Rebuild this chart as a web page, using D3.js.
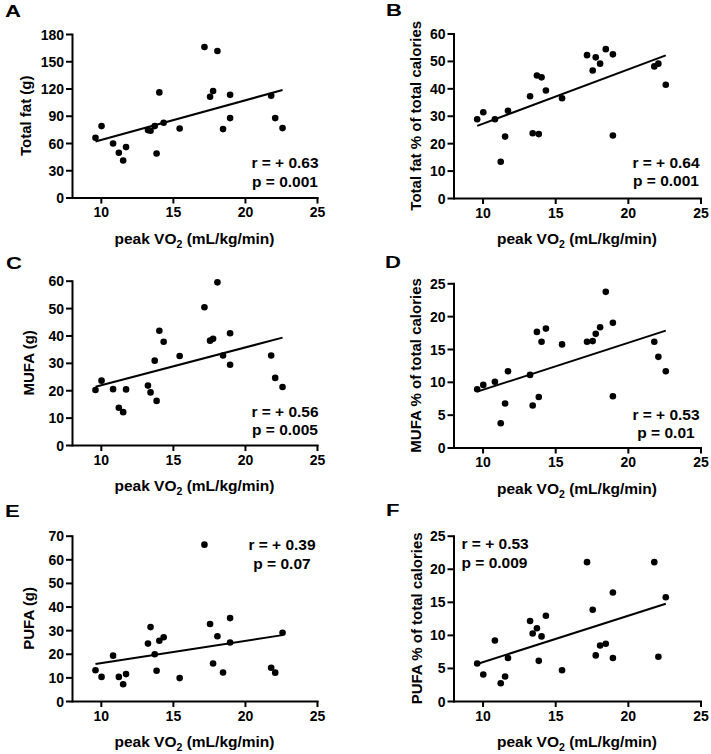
<!DOCTYPE html>
<html><head><meta charset="utf-8">
<script src="https://cdn.jsdelivr.net/npm/d3@7"></script>
<style>
body{margin:0;background:#fff}
svg{display:block}
text{font-family:"Liberation Sans",Arial,Helvetica,sans-serif;font-weight:bold;fill:#000}
</style>
</head><body>
<svg id="chart" width="711" height="754"></svg>
<script>
// ---- data ----
const peakVO2 = [9.63, 10.05, 10.85, 11.25, 11.55, 11.75, 13.27, 13.45, 13.74, 13.87, 14.06, 14.36, 15.47, 17.19, 17.58, 17.79, 18.09, 18.48, 18.97, 18.97, 21.82, 22.1, 22.61];
const totalFat = [65.8, 78.6, 59.5, 49.2, 40.8, 55.5, 74.2, 73.5, 78.6, 48.5, 115.7, 82.3, 76.0, 165.7, 111, 117.2, 161.3, 75.3, 113, 87.4, 112, 87.4, 76.4];
const totalFatPct = [28.7, 31.3, 28.7, 13.2, 22.4, 31.8, 37.1, 23.6, 44.7, 23.3, 44.0, 39.2, 36.4, 52.1, 46.5, 51.3, 49.0, 54.3, 52.4, 22.8, 48.0, 49.0, 41.3];
const mufa = [20.1, 23.5, 20.4, 13.6, 12.0, 20.3, 21.7, 19.2, 30.8, 16.1, 41.7, 37.7, 32.5, 50.3, 38.1, 38.8, 59.4, 32.7, 40.8, 29.3, 32.7, 24.5, 21.2];
const mufaPct = [8.87, 9.53, 10.0, 3.7, 6.7, 11.6, 11.05, 6.4, 17.6, 7.7, 16.1, 18.1, 15.7, 16.1, 16.2, 17.3, 18.3, 23.7, 19.0, 7.8, 16.1, 13.8, 11.6];
const pufa = [13.0, 10.2, 19.2, 10.2, 7.1, 11.4, 24.3, 31.3, 19.8, 12.8, 25.5, 27.0, 9.7, 66.2, 32.6, 15.9, 27.4, 12.1, 35.1, 24.8, 14.1, 12.0, 28.9];
const pufaPct = [5.67, 4.0, 9.16, 2.68, 3.7, 6.5, 12.1, 10.2, 11.0, 6.07, 9.77, 12.9, 4.66, 21.0, 13.8, 6.9, 8.4, 8.65, 16.4, 6.5, 21.0, 6.7, 15.7];

const panelLetters = ["A", "B", "C", "D", "E", "F"];
const yTitles = ["Total fat (g)", "Total fat % of total calories", "MUFA (g)", "MUFA % of total calories", "PUFA (g)", "PUFA % of total calories"];
const yMaxes = [180, 60, 60, 25, 70, 25];
const ySteps = [30, 10, 10, 5, 10, 5];
const rLabels = ["r = + 0.63", "r = + 0.64", "r = + 0.56", "r = + 0.53", "r = + 0.39", "r = + 0.53"];
const pLabels = ["p = 0.001", "p = 0.001", "p = 0.005", "p = 0.01", "p = 0.07", "p = 0.009"];
const fitStart = [61.7, 26.3, 21.3, 8.5, 15.7, 5.6];
const fitEnd = [118.3, 52.0, 39.2, 17.8, 27.9, 14.7];
const xDomain = [8, 25];
const xTicks = [10, 15, 20, 25];
const series = [totalFat, totalFatPct, mufa, mufaPct, pufa, pufaPct];

// ---- layout ----
const layout = [
  {x0: 72, x1: 317, y0: 34, y1: 197.5, lx: 5, ly: 16.5, tx: 31, ann: {x: 285, y: [168.3, 186.7], anchor: "middle"}},
  {x0: 453.5, x1: 700.5, y0: 33.5, y1: 198, lx: 386, ly: 15.5, tx: 421, ann: {x: 666, y: [167.7, 186], anchor: "middle"}},
  {x0: 72, x1: 317, y0: 280.7, y1: 445, lx: 6, ly: 269, tx: 34, ann: {x: 285, y: [416.7, 435], anchor: "middle"}},
  {x0: 453.5, x1: 700.5, y0: 283.3, y1: 447.5, lx: 385, ly: 268.3, tx: 421, ann: {x: 666, y: [420, 438.3], anchor: "middle"}},
  {x0: 72, x1: 317, y0: 535.7, y1: 701, lx: 5, ly: 516.5, tx: 34, ann: {x: 282, y: [550, 569.3], anchor: "middle"}},
  {x0: 453.5, x1: 700.5, y0: 535.7, y1: 701, lx: 386, ly: 515.5, tx: 422, ann: {x: 461.5, y: [549.3, 568.3], anchor: "start"}}
];

const svg = d3.select("#chart");

layout.forEach((L, i) => {
  const g = svg.append("g");
  const x = d3.scaleLinear().domain(xDomain).range([L.x0, L.x1]);
  const y = d3.scaleLinear().domain([0, yMaxes[i]]).range([L.y1, L.y0]);
  const yTicks = d3.range(0, yMaxes[i] + ySteps[i] / 2, ySteps[i]);

  // axes
  const xAx = g.append("g").attr("transform", `translate(0,${L.y1})`)
    .call(d3.axisBottom(x).tickValues(xTicks).tickSize(6).tickSizeOuter(0).tickPadding(4).tickFormat(d3.format("d")));
  const yAx = g.append("g").attr("transform", `translate(${L.x0},0)`)
    .call(d3.axisLeft(y).tickValues(yTicks).tickSize(6).tickSizeOuter(0).tickPadding(2).tickFormat(d3.format("d")));
  [xAx, yAx].forEach(a => {
    a.select(".domain").attr("stroke", "#000").attr("stroke-width", 2).attr("stroke-linecap", "square");
    a.selectAll(".tick line").attr("stroke", "#000").attr("stroke-width", 2);
    a.selectAll(".tick text").style("font-size", "14px").style("font-family", '"Liberation Sans",Arial,sans-serif').style("font-weight", "bold").attr("fill", "#000");
  });
  xAx.selectAll(".tick text").attr("dy", "0.71em");
  yAx.selectAll(".tick text").attr("dy", "0.36em");

  // regression line
  const xmin = d3.min(peakVO2), xmax = d3.max(peakVO2);
  g.append("line")
    .attr("x1", x(xmin)).attr("y1", y(fitStart[i]))
    .attr("x2", x(xmax)).attr("y2", y(fitEnd[i]))
    .attr("stroke", "#000").attr("stroke-width", 2);

  // points
  g.selectAll("circle.pt").data(peakVO2.map((v, k) => [v, series[i][k]]))
    .join("circle").attr("class", "pt")
    .attr("cx", d => x(d[0])).attr("cy", d => y(d[1])).attr("r", 3.3).attr("fill", "#000");

  // panel letter
  g.append("text").attr("transform", `translate(${L.lx},${L.ly}) scale(1.3,1)`)
    .style("font-size", "17px").text(panelLetters[i]);

  // y title
  g.append("text").attr("transform", `translate(${L.tx},${(L.y0 + L.y1) / 2}) rotate(-90)`)
    .attr("text-anchor", "middle").style("font-size", "15px").text(yTitles[i]);

  // x title
  const xt = g.append("text").attr("x", (L.x0 + L.x1) / 2).attr("y", L.y1 + 46)
    .attr("text-anchor", "middle").style("font-size", "15.5px");
  xt.append("tspan").text("peak VO");
  xt.append("tspan").attr("dy", 4).style("font-size", "10.5px").text("2");
  xt.append("tspan").attr("dy", -4).text(" (mL/kg/min)");

  // annotation
  g.append("text").attr("x", L.ann.x).attr("y", L.ann.y[0]).attr("text-anchor", L.ann.anchor)
    .style("font-size", "15.5px").text(rLabels[i]);
  g.append("text").attr("x", L.ann.x).attr("y", L.ann.y[1]).attr("text-anchor", L.ann.anchor)
    .style("font-size", "15.5px").text(pLabels[i]);
});
</script>
</body></html>
